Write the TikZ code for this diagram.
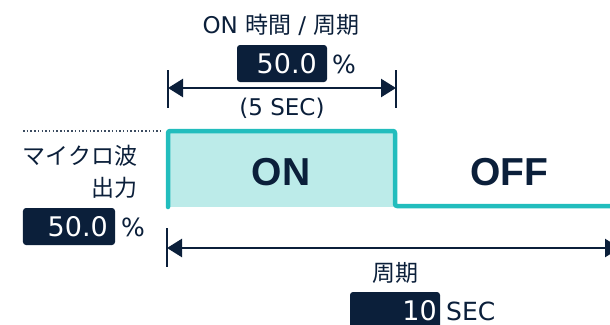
\documentclass[tikz,border=0pt]{standalone}
\usepackage{fontspec}
\setmainfont{DejaVu Sans}
\newfontfamily\cjk{Noto Sans CJK JP}
\newfontfamily\onofffont{Liberation Sans}
\usetikzlibrary{arrows.meta}
\definecolor{navy}{HTML}{0B1F3A}
\definecolor{tealline}{HTML}{22BDBD}
\definecolor{tealfill}{HTML}{BCEBE9}
\begin{document}
\begin{tikzpicture}[x=1bp,y=-1bp,
  lbl/.style={text=navy, inner sep=0pt},
  valbox/.style={fill=navy, rounded corners=3bp, inner sep=0pt},
  valtext/.style={text=white, inner sep=0pt, anchor=base east, font=\fontsize{27bp}{30bp}\selectfont},
  unittext/.style={lbl, anchor=base west, font=\fontsize{25bp}{28bp}\selectfont},
  tickline/.style={draw=navy, line width=2.5bp},
  dimarrow/.style={draw=navy, line width=2.5bp, {Triangle[length=15bp,width=18bp]}-{Triangle[length=15bp,width=18bp]}},
  pulse/.style={draw=tealline, line width=4.5bp, rounded corners=2bp, line cap=round, line join=round},
  bigword/.style={lbl, anchor=base, font=\onofffont\bfseries\fontsize{39bp}{42bp}\selectfont}
]
\useasboundingbox (0,0) rectangle (610,324);

% title
\node[lbl, anchor=base, font=\fontsize{23bp}{26bp}\selectfont] (title) at (281,33) {ON {\cjk 時間} / {\cjk 周期}};

% ON time box
\node[valbox, minimum width=90bp, minimum height=37bp] (pbox) at (282,63.5) {};
\node[valtext] (pval) at (317,73) {50.0};
\node[unittext, font=\fontsize{25bp}{28bp}\selectfont] (pct) at (332,73) {\%};

% top dimension
\coordinate (ta1) at (168,70);
\coordinate (ta2) at (168,108);
\coordinate (tb1) at (396,70);
\coordinate (tb2) at (396,108);
\coordinate (al) at (168,88);
\coordinate (ar) at (396,88);
\draw[tickline] (ta1) -- (ta2);
\draw[tickline] (tb1) -- (tb2);
\draw[dimarrow] (al) -- (ar);
\node[lbl, anchor=base, font=\fontsize{23bp}{26bp}\selectfont] (five) at (282,115) {(5 SEC)};

% dotted level line
\coordinate (d1) at (23,131);
\coordinate (d2) at (163,131);
\draw[navy!80, line width=1.5bp, dash pattern=on 1.5bp off 2.2bp] (d1) -- (d2);

% pulse
\fill[tealfill] (168,131) rectangle (395,207);
\draw[pulse] (168,207) -- (168,131) -- (395,131) -- (395,206) -- (615,206);
\node[bigword] (on) at (281,185) {ON};
\node[bigword] (off) at (509,185) {OFF};

% microwave output
\node[lbl, anchor=base east, font=\cjk\fontsize{23bp}{26bp}\selectfont] (mw) at (137.5,164.5) {マイクロ波};
\node[lbl, anchor=base east, font=\cjk\fontsize{23bp}{26bp}\selectfont] (out) at (137.5,196) {出力};
\node[valbox, minimum width=92bp, minimum height=37bp] (obox) at (69,226.5) {};
\node[valtext] (oval) at (108,236.5) {50.0};
\node[unittext] (opct) at (121,236.5) {\%};

% bottom dimension
\coordinate (bt1) at (167,228);
\coordinate (bt2) at (167,267);
\coordinate (bl) at (167,248);
\coordinate (br) at (620,248);
\draw[tickline] (bt1) -- (bt2);
\draw[dimarrow] (bl) -- (br);
\node[lbl, anchor=base, font=\cjk\fontsize{23bp}{26bp}\selectfont] (period) at (395,281) {周期};
\node[valbox, minimum width=90bp, minimum height=40bp] (sbox) at (395,312) {};
\node[valtext] (sval) at (437,320) {10};
\node[unittext] (sec) at (446,320) {SEC};
\end{tikzpicture}
\end{document}
